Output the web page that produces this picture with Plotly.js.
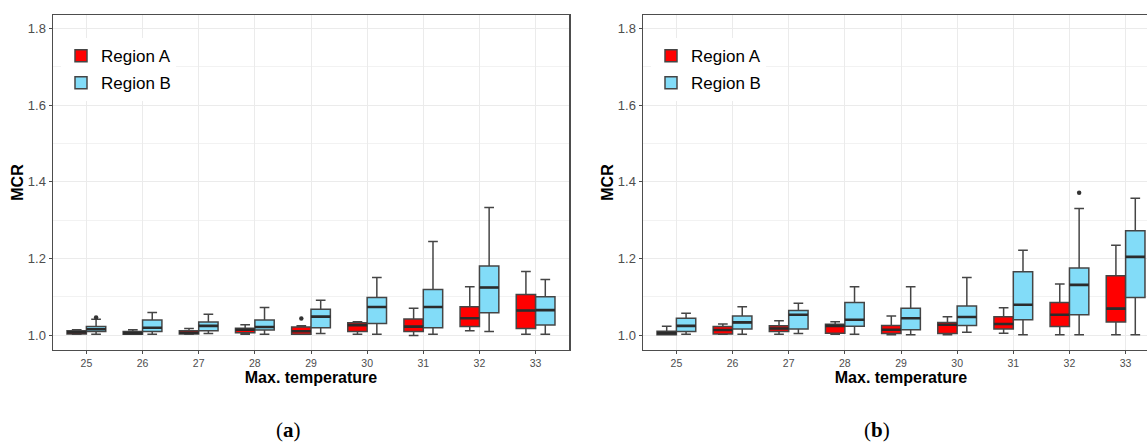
<!DOCTYPE html>
<html>
<head>
<meta charset="utf-8">
<script src="https://cdn.plot.ly/plotly-3.0.1.min.js"></script>
<style>
html,body{margin:0;padding:0;overflow:hidden;background:#fff;}
#chart{width:1170px;height:443px;}
</style>
</head>
<body>
<div id="chart"></div>
<script>
// Categories (Max. temperature)
var temps = ['25','26','27','28','29','30','31','32','33'];

// Panel (a) – Region A
var a_A_q1  = [1.003, 1.002, 1.003, 1.006, 1.002, 1.009, 1.009, 1.022, 1.017];
var a_A_med = [1.007, 1.005, 1.006, 1.014, 1.010, 1.026, 1.022, 1.044, 1.064];
var a_A_q3  = [1.011, 1.009, 1.011, 1.018, 1.021, 1.032, 1.042, 1.074, 1.106];
var a_A_lo  = [1.002, 1.002, 1.002, 1.002, 1.002, 1.002, 0.999, 1.011, 1.002];
var a_A_hi  = [1.014, 1.014, 1.017, 1.027, 1.024, 1.035, 1.070, 1.126, 1.166];
var a_A_outX = ['29'];
var a_A_outY = [1.043];

// Panel (a) – Region B
var a_B_q1  = [1.009, 1.009, 1.011, 1.013, 1.019, 1.030, 1.019, 1.058, 1.026];
var a_B_med = [1.015, 1.019, 1.024, 1.021, 1.048, 1.073, 1.073, 1.124, 1.065];
var a_B_q3  = [1.022, 1.039, 1.034, 1.039, 1.067, 1.098, 1.119, 1.180, 1.100];
var a_B_lo  = [1.002, 1.002, 1.004, 1.002, 1.004, 1.002, 1.002, 1.009, 1.002];
var a_B_hi  = [1.041, 1.059, 1.054, 1.072, 1.091, 1.150, 1.244, 1.333, 1.145];
var a_B_outX = ['25'];
var a_B_outY = [1.046];

// Panel (b) – Region A
var b_A_q1  = [1.001, 1.003, 1.009, 1.005, 1.004, 1.004, 1.016, 1.022, 1.034];
var b_A_med = [1.005, 1.013, 1.017, 1.024, 1.014, 1.027, 1.029, 1.053, 1.069];
var b_A_q3  = [1.010, 1.022, 1.024, 1.028, 1.025, 1.033, 1.048, 1.085, 1.155];
var b_A_lo  = [1.001, 1.002, 1.002, 1.002, 1.001, 1.001, 1.005, 1.001, 1.001];
var b_A_hi  = [1.023, 1.029, 1.037, 1.035, 1.050, 1.048, 1.071, 1.133, 1.234];

// Panel (b) – Region B
var b_B_q1  = [1.009, 1.016, 1.016, 1.023, 1.014, 1.025, 1.040, 1.053, 1.098];
var b_B_med = [1.024, 1.033, 1.053, 1.040, 1.044, 1.047, 1.079, 1.131, 1.204];
var b_B_q3  = [1.044, 1.050, 1.064, 1.085, 1.070, 1.076, 1.165, 1.175, 1.272];
var b_B_lo  = [1.002, 1.002, 1.004, 1.002, 1.001, 1.007, 1.001, 1.001, 1.001];
var b_B_hi  = [1.057, 1.074, 1.083, 1.126, 1.126, 1.150, 1.221, 1.330, 1.357];
var b_B_outX = ['32'];
var b_B_outY = [1.371];

var seriesNames = ['Region A', 'Region B'];
var colA = '#ff0000', colB = '#82dcf8';

function boxTrace(name, fill, q1, med, q3, lo, hi, xa, ya, grp, leg) {
  return {
    type: 'box', orientation: 'v', name: name, x: temps,
    q1: q1, median: med, q3: q3, lowerfence: lo, upperfence: hi,
    boxpoints: false,
    fillcolor: fill, line: {color: '#454545', width: 1.5},
    whiskerwidth: 0.5, xaxis: xa, yaxis: ya,
    offsetgroup: grp, alignmentgroup: xa, legendgroup: grp + xa,
    legend: leg, showlegend: true, hoverinfo: 'y'
  };
}
function medTrace(med, xa, ya, grp) {
  return {
    type: 'box', orientation: 'v', x: temps,
    q1: med, median: med, q3: med, lowerfence: med, upperfence: med,
    boxpoints: false, fillcolor: 'rgba(0,0,0,0)',
    line: {color: '#2b2b2b', width: 2.6}, whiskerwidth: 0,
    xaxis: xa, yaxis: ya, offsetgroup: grp, alignmentgroup: xa,
    showlegend: false, hoverinfo: 'skip'
  };
}
function outTrace(xs, ys, xa, ya, grp) {
  return {
    type: 'box', orientation: 'v', x: xs, y: ys,
    boxpoints: 'all', jitter: 0, pointpos: 0,
    marker: {color: '#333333', size: 4.5, line: {width: 0}},
    fillcolor: 'rgba(0,0,0,0)', line: {color: 'rgba(0,0,0,0)', width: 0}, whiskerwidth: 0,
    xaxis: xa, yaxis: ya, offsetgroup: grp, alignmentgroup: xa,
    showlegend: false, hoverinfo: 'y'
  };
}

var data = [
  boxTrace(seriesNames[0], colA, a_A_q1, a_A_med, a_A_q3, a_A_lo, a_A_hi, 'x', 'y', 'A', 'legend'),
  boxTrace(seriesNames[1], colB, a_B_q1, a_B_med, a_B_q3, a_B_lo, a_B_hi, 'x', 'y', 'B', 'legend'),
  medTrace(a_A_med, 'x', 'y', 'A'),
  medTrace(a_B_med, 'x', 'y', 'B'),
  outTrace(a_A_outX, a_A_outY, 'x', 'y', 'A'),
  outTrace(a_B_outX, a_B_outY, 'x', 'y', 'B'),
  boxTrace(seriesNames[0], colA, b_A_q1, b_A_med, b_A_q3, b_A_lo, b_A_hi, 'x2', 'y2', 'A', 'legend2'),
  boxTrace(seriesNames[1], colB, b_B_q1, b_B_med, b_B_q3, b_B_lo, b_B_hi, 'x2', 'y2', 'B', 'legend2'),
  medTrace(b_A_med, 'x2', 'y2', 'A'),
  medTrace(b_B_med, 'x2', 'y2', 'B'),
  outTrace(b_B_outX, b_B_outY, 'x2', 'y2', 'B')
];

var W = 1170;
var FONT = 'Liberation Sans, Arial, sans-serif';
function xax(domain, anchor) {
  return {
    domain: domain, anchor: anchor, type: 'category', range: [-0.6, 8.6],
    categoryorder: 'array', categoryarray: temps,
    showline: true, mirror: true, linecolor: '#4d4d4d', linewidth: 1.2,
    showgrid: true, gridcolor: '#ebebeb', gridwidth: 1,
    ticks: 'outside', ticklen: 3, tickcolor: '#4d4d4d', tickwidth: 1,
    tickfont: {family: FONT, size: 10.5, color: '#4d4d4d'},
    zeroline: false,
    title: {text: '<b>Max. temperature</b>', font: {family: FONT, size: 16, color: '#000'}, standoff: 2}
  };
}
function yax(anchor) {
  return {
    domain: [0, 1], anchor: anchor, range: [0.961, 1.835],
    tick0: 0, dtick: 0.2, tickformat: '.1f',
    showline: true, mirror: true, linecolor: '#4d4d4d', linewidth: 1.2,
    showgrid: true, gridcolor: '#ebebeb', gridwidth: 1,
    minor: {dtick: 0.1, showgrid: true, gridcolor: '#f2f2f2', gridwidth: 1},
    ticks: 'outside', ticklen: 3, tickcolor: '#4d4d4d', tickwidth: 1,
    tickfont: {family: FONT, size: 13, color: '#4d4d4d'},
    zeroline: false,
    title: {text: '<b>MCR</b>', font: {family: FONT, size: 16, color: '#000'}, standoff: 0}
  };
}
function leg(xpx) {
  return {
    x: xpx / W, xanchor: 'left', y: 0.931, yanchor: 'top',
    bgcolor: '#ffffff', borderwidth: 0,
    font: {family: FONT, size: 17, color: '#000'},
    tracegroupgap: 2, traceorder: 'grouped'
  };
}

var layout = {
  width: W, height: 443,
  margin: {l: 0, r: 0, t: 15, b: 93},
  paper_bgcolor: '#fff', plot_bgcolor: '#fff',
  showlegend: true,
  boxmode: 'group', boxgap: 0.31, boxgroupgap: 0,
  xaxis: xax([52.7 / W, 569.3 / W], 'y'),
  yaxis: yax('x'),
  xaxis2: xax([642.7 / W, 1159.3 / W], 'y2'),
  yaxis2: yax('x2'),
  legend: leg(61),
  legend2: leg(651),
  annotations: [
    {text: '(<b>a</b>)', xref: 'paper', yref: 'paper', x: 288 / W, y: -0.239, xanchor: 'center', yanchor: 'middle',
     showarrow: false, font: {family: 'Liberation Serif, Times New Roman, serif', size: 21, color: '#000'}},
    {text: '(<b>b</b>)', xref: 'paper', yref: 'paper', x: 877 / W, y: -0.239, xanchor: 'center', yanchor: 'middle',
     showarrow: false, font: {family: 'Liberation Serif, Times New Roman, serif', size: 21, color: '#000'}}
  ]
};

Plotly.newPlot('chart', data, layout, {displayModeBar: false, staticPlot: true});
</script>
</body>
</html>
